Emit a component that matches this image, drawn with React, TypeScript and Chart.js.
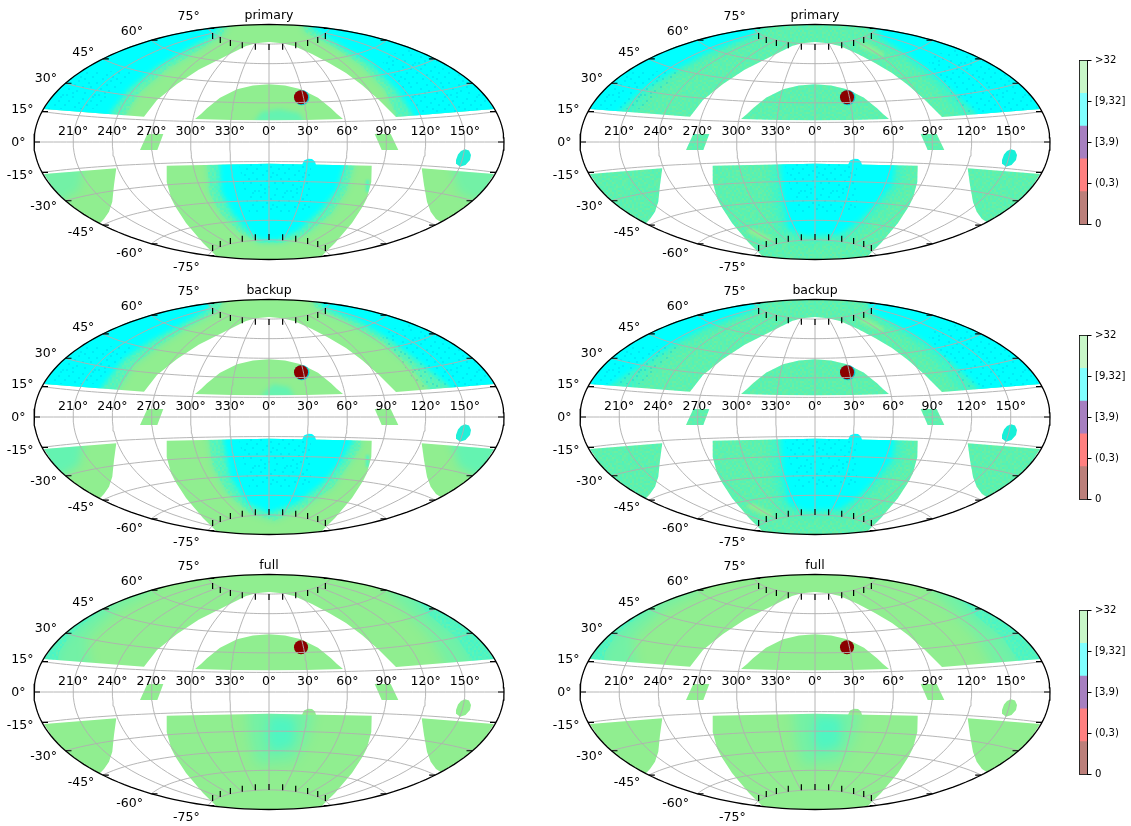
import React, { useEffect, useRef } from 'react';
import { Chart, registerables } from 'chart.js';

type P = [number, number];
type Layer = { poly: P[]; color: string | (() => CanvasPattern); blur: number };

const FONT = '"DejaVu Sans", sans-serif';
const GREEN = '#90EE90';
const TEAL_BASE = '#6CEFA2';
const CYAN = '#00FFFF';
const A20 = 'rgba(0,255,255,0.20)';
const A30 = 'rgba(0,255,255,0.30)';
const A45 = 'rgba(0,255,255,0.45)';

const latTicks = [-75, -60, -45, -30, -15, 0, 15, 30, 45, 60, 75];
const lonTicks = [-150, -120, -90, -60, -30, 0, 30, 60, 90, 120, 150];
const lonLabels = ['210°', '240°', '270°', '300°', '330°', '0°', '30°', '60°', '90°', '120°', '150°'];
const colorbarValues = [1, 1, 1, 1, 1];
const colorbarColors = ['#BC7F7A', '#FF7F7F', '#A67FC0', '#7FFFFF', '#C8F7C8'];
const colorbarTickValues = [0, 1.25, 2.5, 3.75, 5];
const colorbarTickLabels = ['0', '(0,3)', '[3,9)', '[9,32]', '>32'];

// Fixed grain tile (a style, not data): each digit is one grain's strength.
const grainTile = [
  '3071952846017392', '8264017359284061', '1593826047153928', '4708163925860714',
  '9260471835092647', '0538294716348150', '7142685093716293', '3869017452908541',
  '5201743968124076', '9476308215739620', '1835692047461385', '6027481359206917',
  '4391750628543702', '8650239174087164', '2714968530926481', '0983125746351809',
];
const patternCache = new Map<string, CanvasPattern>();
function grain(rgb: string, strength: number, minDigit = 0) {
  return () => {
    const key = `${rgb}|${strength}|${minDigit}`;
    const hit = patternCache.get(key);
    if (hit) return hit;
    const c = document.createElement('canvas');
    c.width = 32; c.height = 32;
    const g = c.getContext('2d')!;
    grainTile.forEach((row, j) => {
      row.split('').forEach((d, i) => {
        const v = Number(d);
        if (v < minDigit) return;
        g.fillStyle = `rgba(${rgb},${(strength * v) / 9})`;
        g.fillRect(i * 2, j * 2, 2, 2);
      });
    });
    const p = g.createPattern(c, 'repeat')!;
    patternCache.set(key, p);
    return p;
  };
}

// Sky-plane outlines of the survey footprint (plane half-size 235 x 117.5).
const northBand: P[] = [
  [-225, 33], [-125, 25.3], [-112, 42], [-92, 58], [-70, 72.5], [-57, 79], [-39, 88], [-23, 96], [-13, 98.7], [0, 100],
  [13, 98.7], [25, 96], [43, 88], [60, 79], [77, 69], [93, 57], [110, 42], [127, 25], [225, 33],
  [215, 47.9], [200, 62.2], [180, 76], [160, 86.5], [140, 94.9], [120, 101.5], [100, 106.8], [80, 111], [60, 114.1], [40, 116.3], [20, 117.6], [0, 118],
  [-20, 117.6], [-40, 116.3], [-60, 114.1], [-80, 111], [-100, 106.8], [-120, 101.5], [-140, 94.9], [-160, 86.5], [-180, 76], [-200, 62.2], [-215, 47.9],
];
const capCentral: P[] = [
  [-74, 23], [-68, 28], [-62, 33.7], [-49, 44.2], [-32, 52.7], [-16, 56.5], [0, 57.7], [16, 56.5], [32, 52.7], [49, 44.2], [62, 33.7], [68, 28], [74, 23], [37, 22], [0, 21.7], [-37, 22],
];
const southCentral: P[] = [
  [-102.3, -23.7], [0, -21.7], [102.7, -23.7], [102.3, -40], [98, -56], [94, -64], [83, -81], [66, -101], [52.3, -114.5],
  [40, -115.8], [20, -117], [0, -117.5], [-20, -117], [-40, -115.8], [-52.3, -114.5], [-66, -101], [-83, -81], [-94, -64], [-98, -56], [-102.3, -40],
];
const southLeft: P[] = [
  [-225, -32], [-152.7, -26.3], [-155, -43], [-156.7, -59.7], [-160, -69.7], [-165, -77], [-169.3, -81.5], [-185, -72.5], [-200, -61.7], [-215, -47.4],
];
const southRight: P[] = [
  [225, -32], [152.7, -26.3], [155, -43], [158, -59.7], [161.7, -69.7], [167, -77], [171.7, -80], [185, -72.5], [200, -61.7], [215, -47.4],
];
const patchLeft: P[] = [[-121.7, 8], [-105.7, 8], [-111.7, -8], [-129, -8]];
const patchRight: P[] = [[105.7, 8], [121.7, 8], [129.3, -8], [112.7, -8]];
const oval: P[] = [[196, -7.3], [200, -8.5], [202, -13], [201, -18], [196.5, -23], [191, -24.7], [187.5, -22], [187, -18], [189, -12.5], [192, -9]];
const bump: P[] = [[33, -23], [35, -18.5], [39, -16.7], [43, -17], [46, -19.5], [47, -23]];
const redDisc: P[] = [[32, 44.7]];
const redHalo: P[] = [[32.8, 44.4]];

// Density zones per panel.
const wholePlane: P[] = [[-240, -125], [240, -125], [240, 125], [-240, 125]];
const primaryNL: P[] = [[-240, 20], [-159, 20], [-159, 29], [-139, 54], [-112, 75], [-82, 93], [-56, 107], [-45, 125], [-240, 125]];
const primaryNLmid: P[] = [[-240, 20], [-148, 20], [-129, 50], [-103, 72], [-73, 90], [-46, 107], [-36, 125], [-240, 125]];
const primaryNR: P[] = [[240, 20], [144, 20], [144, 27], [128, 52], [101, 79], [74, 95], [44, 114], [40, 125], [240, 125]];
const primaryNRmid: P[] = [[240, 20], [130, 20], [116, 52], [92, 77], [65, 95], [36, 110], [31, 125], [240, 125]];
const primaryS: P[] = [[-50, -15], [-48, -50], [-36, -72], [-20, -90], [-8, -98], [10, -98], [30, -88], [52, -68], [68, -48], [76, -21], [76, -15]];
const primarySmid: P[] = [[-62, -15], [-60, -50], [-48, -72], [-30, -90], [-10, -101], [14, -101], [38, -92], [62, -72], [78, -48], [86, -21], [86, -15]];
const primaryCap: P[] = [[-15, 20], [36, 20], [30, 29], [10, 33], [-8, 30]];
const backupNL: P[] = [[-240, 20], [-172, 20], [-167, 30], [-146, 57], [-120, 75], [-92, 90], [-62, 107], [-55, 125], [-240, 125]];
const backupNLmid: P[] = [[-240, 20], [-155, 20], [-135, 52], [-108, 72], [-80, 90], [-50, 107], [-43, 125], [-240, 125]];
const backupNR: P[] = [[240, 20], [185, 20], [181, 30], [151, 54], [121, 77], [88, 97], [54, 110], [50, 125], [240, 125]];
const backupNRmid: P[] = [[240, 20], [165, 20], [142, 50], [112, 76], [78, 95], [46, 110], [40, 125], [240, 125]];
const backupS: P[] = [[-46, -15], [-46, -23], [-39, -60], [-22, -86], [0, -96], [28, -86], [54, -66], [71, -46], [84, -23], [84, -15]];
const backupSmid: P[] = [[-62, -15], [-56, -50], [-42, -76], [-20, -96], [5, -104], [36, -90], [64, -70], [81, -46], [92, -30], [92, -15]];
const backupCap: P[] = [[-9, 20], [26, 20], [20, 30], [4, 33]];
const tipLeft: P[] = [[-240, -20], [-185, -20], [-190, -48], [-210, -60], [-240, -60]];
const tipRight: P[] = [[240, -20], [180, -20], [190, -50], [210, -60], [240, -60]];
const sliver: P[] = [[97, -38], [100, -38], [100, -50], [97, -50]];
const deepNL: P[] = [[-240, 20], [-200, 20], [-197, 30], [-173, 52], [-143, 70], [-107, 90], [-63, 107], [-50, 125], [-240, 125]];
const deepNLmid: P[] = [[-240, 20], [-185, 20], [-163, 50], [-133, 72], [-98, 90], [-55, 107], [-45, 125], [-240, 125]];
const deepNR: P[] = [[240, 20], [165, 20], [160, 30], [127, 60], [93, 87], [67, 104], [55, 125], [240, 125]];
const deepNRmid: P[] = [[240, 20], [150, 20], [116, 60], [84, 87], [59, 104], [48, 125], [240, 125]];
const backupDeepNL: P[] = [[-240, 20], [-210, 20], [-207, 30], [-170, 55], [-140, 74], [-110, 90], [-63, 107], [-50, 125], [-240, 125]];
const backupDeepNR: P[] = [[240, 20], [168, 20], [163, 30], [137, 54], [107, 77], [77, 94], [57, 104], [50, 125], [240, 125]];
const deepS: P[] = [[-35, -15], [-32, -60], [-27, -86], [-10, -94], [25, -92], [43, -80], [60, -63], [77, -43], [80, -23], [80, -15]];
const deepSmid: P[] = [[-46, -15], [-43, -60], [-36, -90], [-10, -100], [30, -98], [52, -82], [69, -63], [87, -43], [91, -15]];
const streakNE: P[] = [[43, 99], [55, 97], [70, 88], [68, 85], [55, 90], [45, 95]];
const streakSW: P[] = [[-68, -87], [-60, -87], [-42, -97], [-44, -100], [-55, -97], [-67, -91]];
const fullNLfaint: P[] = [[-240, 20], [-175, 20], [-180, 30], [-182, 54], [-150, 84], [-118, 100], [-105, 125], [-240, 125]];
const fullNLstrong: P[] = [[-240, 20], [-212, 20], [-210, 40], [-198, 58], [-178, 74], [-160, 88], [-155, 125], [-240, 125]];
const fullNRfaint: P[] = [[240, 20], [178, 20], [176, 30], [160, 57], [132, 87], [118, 100], [105, 125], [240, 125]];
const fullNRstrong: P[] = [[240, 20], [205, 20], [200, 36], [188, 54], [160, 77], [145, 94], [138, 125], [240, 125]];
const fullSfaint: P[] = [[-22, -15], [44, -15], [44, -23], [38, -50], [24, -70], [-12, -73], [-19, -50]];
const fullSstrong: P[] = [[1, -24], [24, -26], [26, -33], [24, -53], [4, -60], [-2, -46]];
const specksNE: P[] = [[150, 30], [225, 30], [205, 68], [150, 95], [110, 85]];
const specksNW: P[] = [[-225, 33], [-175, 33], [-135, 70], [-190, 72]];
const specksS: P[] = [[-30, -22], [42, -22], [42, -70], [-20, -70]];

const CYAN_RGB = '0,255,255';
const fine = grain(CYAN_RGB, 0.26);
const soft = (poly: P[], flat: string, blur: number): Layer[] => [
  { poly, color: flat, blur },
  { poly, color: fine, blur: 0.5 },
];
const core = (poly: P[], blur = 2.5): Layer => ({ poly, color: CYAN, blur });
const dark = grain('0,120,200', 0.14, 9);
const darkSpecks: Layer[] = [
  { poly: specksNE, color: dark, blur: 0.4 }, { poly: specksNW, color: dark, blur: 0.4 }, { poly: specksS, color: dark, blur: 0.4 },
];

const primaryLayers: Layer[] = [
  ...soft(primaryNLmid, A30, 3), ...soft(primaryNRmid, A30, 3), ...soft(primarySmid, A30, 3),
  core(primaryNL), core(primaryNR), core(primaryS), ...darkSpecks,
  { poly: primaryCap, color: A30, blur: 2 }, { poly: tipLeft, color: A20, blur: 4 }, { poly: tipRight, color: A20, blur: 4 }, { poly: sliver, color: A45, blur: 1 },
];
const backupLayers: Layer[] = [
  ...soft(backupNLmid, A30, 3), ...soft(backupNRmid, A30, 3), ...soft(backupSmid, A30, 3),
  core(backupNL), core(backupNR), core(backupS), ...darkSpecks,
  { poly: backupCap, color: A30, blur: 2 }, { poly: tipLeft, color: A30, blur: 4 }, { poly: tipRight, color: A30, blur: 4 }, { poly: sliver, color: A45, blur: 1 },
];
const streaks: Layer[] = [
  { poly: streakNE, color: 'rgba(144,238,144,0.85)', blur: 1.5 }, { poly: streakSW, color: 'rgba(144,238,144,0.9)', blur: 1.5 },
];
const baseGrain: Layer = { poly: wholePlane, color: fine, blur: 0.5 };
const primaryDeepLayers: Layer[] = [
  baseGrain, { poly: deepNLmid, color: A30, blur: 4 }, { poly: deepNRmid, color: A30, blur: 4 }, { poly: deepSmid, color: A30, blur: 4 },
  core(deepNL), core(deepNR), core(deepS), ...darkSpecks, ...streaks,
];
const backupDeepLayers: Layer[] = [
  baseGrain, { poly: deepNLmid, color: A30, blur: 4 }, { poly: deepNRmid, color: A30, blur: 4 }, { poly: deepSmid, color: A30, blur: 4 },
  core(backupDeepNL), core(backupDeepNR), core(deepS), ...darkSpecks, ...streaks,
];
const fullLayers: Layer[] = [
  { poly: fullNLfaint, color: A20, blur: 6 }, { poly: fullNRfaint, color: A20, blur: 6 }, { poly: fullSfaint, color: A20, blur: 6 },
  ...soft(fullNLstrong, A20, 5), ...soft(fullNRstrong, A20, 5), { poly: fullSstrong, color: A30, blur: 4 },
];

const panels = [
  { title: 'primary', col: 0, row: 0, base: GREEN, spot: '#20F0D8', halo: true, layers: primaryLayers },
  { title: 'primary', col: 1, row: 0, base: TEAL_BASE, spot: '#18F0D8', halo: true, layers: primaryDeepLayers },
  { title: 'backup', col: 0, row: 1, base: GREEN, spot: '#20F0D8', halo: true, layers: backupLayers },
  { title: 'backup', col: 1, row: 1, base: TEAL_BASE, spot: '#18F0D8', halo: true, layers: backupDeepLayers },
  { title: 'full', col: 0, row: 2, base: GREEN, spot: GREEN, halo: false, layers: fullLayers },
  { title: 'full', col: 1, row: 2, base: GREEN, spot: GREEN, halo: false, layers: fullLayers },
];

const HW = 235;
const HH = 117.5;
const rad = Math.PI / 180;
function aitoff(lon: number, lat: number): { x: number; y: number } {
  const l = lon * rad, p = lat * rad;
  const a = Math.acos(Math.cos(p) * Math.cos(l / 2));
  const s = a < 1e-9 ? 1 : Math.sin(a) / a;
  return { x: ((2 * Math.cos(p) * Math.sin(l / 2)) / s / Math.PI) * HW, y: (Math.sin(p) / s / (Math.PI / 2)) * HH };
}
const toPts = (p: P[]) => p.map(([x, y]) => ({ x, y }));
function steps(a: number, b: number, n: number) {
  const r: number[] = [];
  for (let i = 0; i <= n; i++) r.push(a + ((b - a) * i) / n);
  return r;
}

const shape = (p: P[], color: any, extra: object = {}) => ({
  data: toPts(p), showLine: true, fill: 'shape', backgroundColor: color, borderColor: 'transparent', borderWidth: 0, pointRadius: 0, tension: 0, ...extra,
});
const polyline = (pts: { x: number; y: number }[], color: string, width: number) => ({
  data: pts, showLine: true, fill: false, borderColor: color, borderWidth: width, pointRadius: 0, tension: 0, clip: 6,
});

function buildDatasets(panel: (typeof panels)[number]) {
  const ds: any[] = [];
  [northBand, capCentral, southCentral, southLeft, southRight, patchLeft, patchRight].forEach((p) =>
    ds.push(shape(p, panel.base, { footprint: true })));
  panel.layers.forEach((l) => ds.push(shape(l.poly, typeof l.color === 'function' ? l.color() : l.color, { heatBlur: l.blur })));
  ds.push(shape(oval, panel.spot));
  ds.push(shape(bump, panel.spot === GREEN ? GREEN : CYAN));
  if (panel.halo) ds.push({ data: toPts(redHalo), pointRadius: 7.6, backgroundColor: '#10C8D8', borderWidth: 0, showLine: false });
  ds.push({ data: toPts(redDisc), pointRadius: 7, backgroundColor: '#8B0000', borderWidth: 0, showLine: false });
  const GRID = 'rgba(176,176,176,0.92)';
  latTicks.forEach((lat) => ds.push(polyline(steps(-180, 180, 72).map((lon) => aitoff(lon, lat)), GRID, 1)));
  lonTicks.forEach((lon) => ds.push(polyline(steps(-75, 75, 50).map((lat) => aitoff(lon, lat)), GRID, 1)));
  const spine = steps(-90, 90, 90);
  ds.push(polyline([...spine.map((lat) => aitoff(180, lat)), ...spine.slice().reverse().map((lat) => aitoff(-180, lat))], '#000', 1.3));
  lonTicks.forEach((lon) => {
    const top = aitoff(lon, 75), bot = aitoff(lon, -75);
    ds.push(polyline([top, { x: top.x, y: top.y - 6 }], '#000', 1.2));
    ds.push(polyline([bot, { x: bot.x, y: bot.y + 6 }], '#000', 1.2));
  });
  latTicks.forEach((lat) => {
    const r = aitoff(180, lat), l = aitoff(-180, lat);
    ds.push(polyline([r, { x: r.x - 6, y: r.y }], '#000', 1.2));
    ds.push(polyline([l, { x: l.x + 6, y: l.y }], '#000', 1.2));
  });
  ds.forEach((d, i) => { d.order = ds.length - i; });
  return ds;
}

// Soft zone edges, kept inside the footprint. Registered before the filler so it wraps each fill.
const heatClip = {
  id: 'heatClip',
  beforeDatasetDraw(chart: any, args: any) {
    const d = chart.data.datasets[args.index];
    if (!d.heatBlur) return;
    const { ctx, scales } = chart;
    ctx.save();
    ctx.beginPath();
    chart.data.datasets.filter((f: any) => f.footprint).forEach((f: any) => {
      f.data.forEach((pt: any, i: number) => {
        const px = scales.x.getPixelForValue(pt.x), py = scales.y.getPixelForValue(pt.y);
        if (i === 0) ctx.moveTo(px, py); else ctx.lineTo(px, py);
      });
      ctx.closePath();
    });
    ctx.clip();
    ctx.filter = `blur(${d.heatBlur}px)`;
  },
  afterDatasetDraw(chart: any, args: any) {
    if (chart.data.datasets[args.index].heatBlur) chart.ctx.restore();
  },
};
Chart.register(heatClip, ...registerables);

const axisLabels = {
  id: 'axisLabels',
  afterDatasetsDraw(chart: any) {
    const { ctx, scales } = chart;
    ctx.save();
    ctx.font = `12.5px ${FONT}`;
    ctx.fillStyle = '#000';
    ctx.textBaseline = 'middle';
    ctx.textAlign = 'center';
    lonTicks.forEach((lon, i) => {
      const p = aitoff(lon, 0);
      ctx.fillText(lonLabels[i], scales.x.getPixelForValue(p.x), scales.y.getPixelForValue(p.y) - 10.3);
    });
    ctx.textAlign = 'right';
    latTicks.forEach((lat) => {
      const p = aitoff(-180, lat);
      ctx.fillText(`${lat}°`, scales.x.getPixelForValue(p.x) - 8.5, scales.y.getPixelForValue(p.y) - (lat / 75) * 12 + 0.7);
    });
    ctx.restore();
  },
};
const barFrame = {
  id: 'barFrame',
  afterDatasetsDraw(chart: any) {
    const { ctx, chartArea: a } = chart;
    ctx.save();
    ctx.strokeStyle = '#000';
    ctx.lineWidth = 0.8;
    ctx.strokeRect(a.left, a.top, a.right - a.left, a.bottom - a.top);
    ctx.restore();
  },
};

const COL_LEFT = [0, 546];
const COL_W = [540, 514];
const COL_PAD_R = [36, 10];

export default function App() {
  const panelRefs = useRef<(HTMLCanvasElement | null)[]>([]);
  const barRefs = useRef<(HTMLCanvasElement | null)[]>([]);
  useEffect(() => {
    const charts: Chart[] = [];
    panels.forEach((panel, i) => {
      charts.push(new Chart(panelRefs.current[i]!, {
        type: 'scatter',
        data: { datasets: buildDatasets(panel) },
        options: {
          animation: false, responsive: false, maintainAspectRatio: false,
          layout: { padding: { left: 34, right: COL_PAD_R[panel.col], top: 0, bottom: 15.5 } },
          scales: {
            x: { type: 'linear', min: -HW, max: HW, display: false },
            y: { type: 'linear', min: -HH, max: HH, display: false },
          },
          plugins: {
            legend: { display: false }, tooltip: { enabled: false },
            title: { display: true, text: panel.title, color: '#000', font: { family: FONT, size: 12.5, weight: 'normal', lineHeight: 1.2 }, padding: { top: 7.8, bottom: 1.7 } },
          },
        },
        plugins: [axisLabels],
      } as any));
    });
    [0, 1, 2].forEach((r) => {
      charts.push(new Chart(barRefs.current[r]!, {
        type: 'bar',
        data: {
          labels: [''],
          datasets: colorbarValues.map((v, i) => ({ data: [v], backgroundColor: colorbarColors[i], borderWidth: 0, stack: 'bar', barPercentage: 1, categoryPercentage: 1 })),
        },
        options: {
          animation: false, responsive: false, maintainAspectRatio: false,
          layout: { padding: { left: 19.5, right: 0, top: 10.4, bottom: 9.3 } },
          scales: {
            x: { display: false, stacked: true },
            y: {
              type: 'linear', position: 'right', min: 0, max: 5, stacked: true,
              afterBuildTicks: (s: any) => { s.ticks = colorbarTickValues.map((value) => ({ value })); },
              afterFit: (s: any) => { s.width = 43.5; },
              ticks: {
                autoSkip: false, maxRotation: 0, color: '#000', padding: 3.5, font: { family: FONT, size: 10.1 },
                callback: (v: number) => colorbarTickLabels[colorbarTickValues.indexOf(v)],
              },
              grid: { drawOnChartArea: false, drawTicks: true, tickLength: 4, color: '#000' },
              border: { color: '#000' },
            },
          },
          plugins: { legend: { display: false }, tooltip: { enabled: false } },
        },
        plugins: [barFrame],
      } as any));
    });
    return () => charts.forEach((c) => c.destroy());
  }, []);
  return (
    <div style={{ position: 'absolute', left: 0, top: 0, width: 1131, height: 826, overflow: 'hidden', background: '#fff' }}>
      {panels.map((p, i) => (
        <canvas key={i} ref={(el) => { panelRefs.current[i] = el; }} width={COL_W[p.col]} height={275}
          style={{ position: 'absolute', left: COL_LEFT[p.col], top: p.row * 275, width: COL_W[p.col], height: 275 }} />
      ))}
      {[0, 1, 2].map((r) => (
        <canvas key={r} ref={(el) => { barRefs.current[r] = el; }} width={71} height={184}
          style={{ position: 'absolute', left: 1060, top: 50 + r * 275, width: 71, height: 184 }} />
      ))}
    </div>
  );
}
